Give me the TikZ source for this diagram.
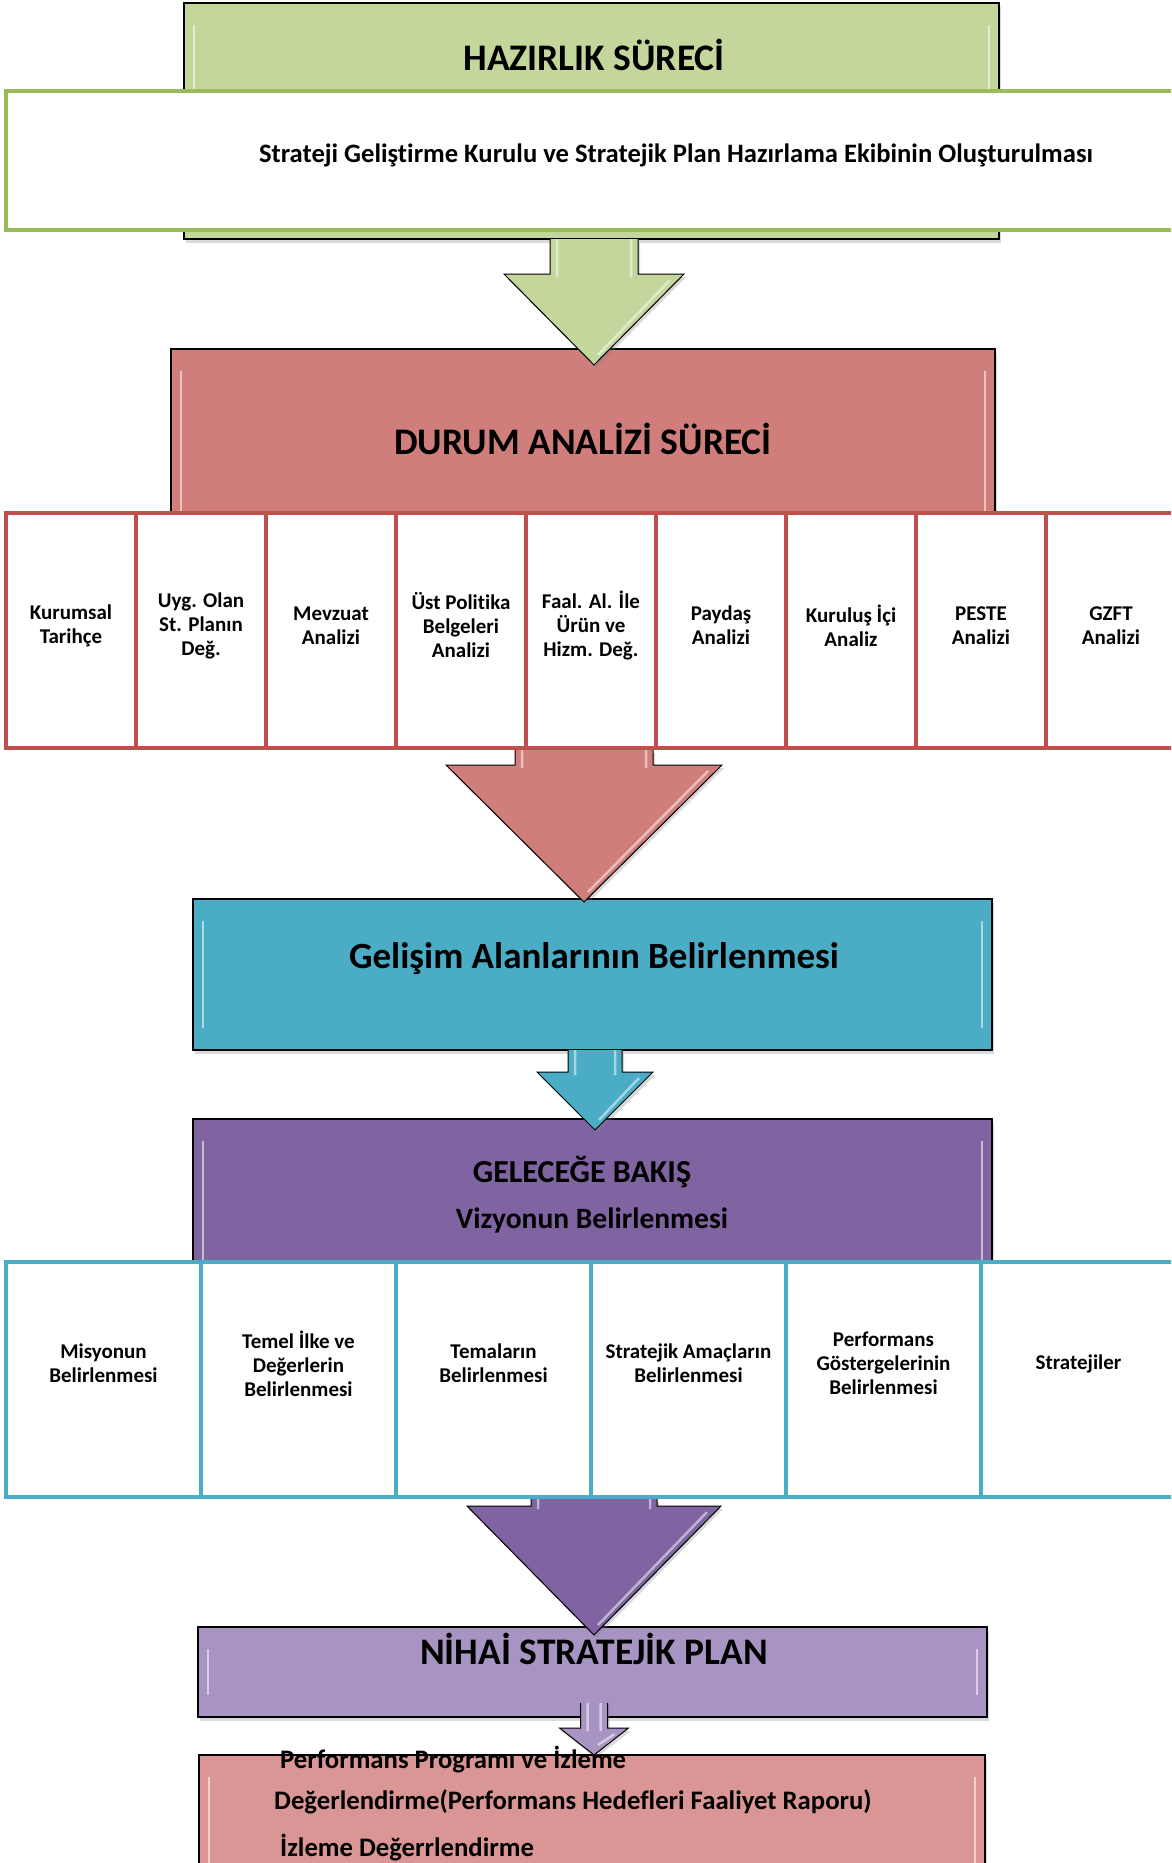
\documentclass[tikz,border=0pt]{standalone}
\usepackage{fontspec}
\setmainfont{Carlito}[Ligatures=NoCommon]
\usetikzlibrary{calc,shadows}

\definecolor{hazgreen}{HTML}{C3D69B}
\definecolor{hazline}{HTML}{9BBB59}
\definecolor{durred}{HTML}{CF7E7B}
\definecolor{durline}{HTML}{C0504D}
\definecolor{gelblue}{HTML}{4BACC6}
\definecolor{gelpurple}{HTML}{8064A2}
\definecolor{nihlav}{HTML}{A894C2}
\definecolor{izlpink}{HTML}{D99694}

\tikzset{
  stage/.style={draw=black, line width=1.3pt, inner sep=0pt, outer sep=0pt,
    drop shadow={opacity=0.3, shadow xshift=2pt, shadow yshift=-4pt},
    path picture={
      \draw[white, opacity=0.55, line width=2.5pt]
        ([xshift=10pt,yshift=-22pt]path picture bounding box.north west)
        -- ([xshift=10pt,yshift=22pt]path picture bounding box.south west);
      \draw[white, opacity=0.55, line width=2.5pt]
        ([xshift=-10pt,yshift=-22pt]path picture bounding box.north east)
        -- ([xshift=-10pt,yshift=22pt]path picture bounding box.south east);
    }},
  rcell/.style={draw=durline, line width=4pt, fill=white, inner sep=0pt,
    minimum width=130pt, minimum height=235pt},
  bcell/.style={draw=gelblue, line width=4pt, fill=white, inner sep=0pt,
    minimum width=195pt, minimum height=235pt},
  celltext/.style={font=\bfseries\fontsize{21}{24}\selectfont, align=center, inner sep=0pt},
  headtext/.style={font=\bfseries\fontsize{37.5}{40}\selectfont, inner sep=0pt},
  subtext/.style={font=\bfseries\fontsize{29.5}{32}\selectfont, inner sep=0pt},
  izltext/.style={font=\bfseries\fontsize{26.7}{30}\selectfont, inner sep=0pt, anchor=west},
  arrowbody/.style={drop shadow={opacity=0.3, shadow xshift=2pt, shadow yshift=-3pt}},
}

% block arrow: colour, start, tip, shaft half width, head half width, head length
\newcommand{\stagearrow}[6]{%
  \fill[arrowbody, fill=#1] let \p1=(#2), \p2=(#3) in
    (\x2-#4,\y1) -- (\x2-#4,\y2+#6) -- (\x2-#5,\y2+#6) -- (\p2)
    -- (\x2+#5,\y2+#6) -- (\x2+#4,\y2+#6) -- (\x2+#4,\y1) -- cycle;
  \draw[white, opacity=0.5, line width=2.5pt] let \p1=(#2), \p2=(#3) in
    (\x2-#4+7pt,\y1) -- (\x2-#4+7pt,\y2+#6-3pt)
    (\x2+#4-7pt,\y1) -- (\x2+#4-7pt,\y2+#6-3pt)
    (\x2+#5-14pt,\y2+#6-6pt) -- (\x2+4pt,\y2+10pt);
  \draw[black, line width=1pt, line join=miter] let \p1=(#2), \p2=(#3) in
    (\x2-#4,\y1) -- (\x2-#4,\y2+#6) -- (\x2-#5,\y2+#6) -- (\p2)
    -- (\x2+#5,\y2+#6) -- (\x2+#4,\y2+#6) -- (\x2+#4,\y1);
}

\begin{document}
\begin{tikzpicture}[x=1pt, y=-1pt]
  \useasboundingbox (0,0) rectangle (1171,1863);
  \clip (0,0) rectangle (1171,1863);

  % hazirlik
  \node[stage, fill=hazgreen, minimum width=815pt, minimum height=236pt] (hazir) at (591.5,121) {};
  \node[headtext] (hazirt) at (594,55) {HAZIRLIK SÜRECİ};
  \node[draw=hazline, line width=4pt, fill=white, inner sep=0pt,
    minimum width=1194pt, minimum height=139pt] (kurul) at (603,160.5) {};
  \node[font=\bfseries\fontsize{26.6}{30}\selectfont, inner sep=0pt] (kurult) at (676,155)
    {Strateji Geliştirme Kurulu ve Stratejik Plan Hazırlama Ekibinin Oluşturulması};

  % durum analizi
  \node[stage, fill=durred, minimum width=824pt, minimum height=251pt] (durum) at (583,474.5) {};
  \node[headtext] (durumt) at (583,439) {DURUM ANALİZİ SÜRECİ};
  \coordinate (tip1) at (594,365);
  \stagearrow{hazgreen}{hazir.south}{tip1}{44pt}{90pt}{91pt}

  \foreach \t [count=\i] in {Kurumsal\\Tarihçe, Uyg. Olan\\St. Planın\\Değ., Mevzuat\\Analizi,
      Üst Politika\\Belgeleri\\Analizi, Faal. Al. İle\\Ürün ve\\Hizm. Değ., Paydaş\\Analizi,
      Kuruluş İçi\\Analiz, PESTE\\Analizi, GZFT\\Analizi} {
    \node[rcell] (r\i) at (130*\i-59,630.5) {};
    \node[celltext] (rt\i) at ([yshift=5pt]r\i.center) {\t};
  }

  % gelisim alanlari
  \node[stage, fill=gelblue, minimum width=799pt, minimum height=151pt] (gelisim) at (592.5,974.5) {};
  \node[headtext, font=\bfseries\fontsize{37}{40}\selectfont] (gelisimt) at (594,959) {Gelişim Alanlarının Belirlenmesi};
  \coordinate (tip2) at (584,902);
  \stagearrow{durred}{r5.south}{tip2}{69pt}{138pt}{137pt}

  % gelecege bakis
  \node[stage, fill=gelpurple, minimum width=799pt, minimum height=181pt] (gelecek) at (592.5,1209.5) {};
  \node[subtext, font=\bfseries\fontsize{32}{34}\selectfont] (gelecekt) at (582,1172) {GELECEĞE BAKIŞ};
  \node[subtext] (vizyont) at (592,1220) {Vizyonun Belirlenmesi};
  \coordinate (tip3) at (595,1130);
  \stagearrow{gelblue}{gelisim.south}{tip3}{27pt}{58pt}{58pt}

  \foreach \t [count=\i] in {Misyonun\\Belirlenmesi, Temel İlke ve\\Değerlerin\\Belirlenmesi,
      Temaların\\Belirlenmesi, Stratejik Amaçların\\Belirlenmesi,
      Performans\\Göstergelerinin\\Belirlenmesi, Stratejiler} {
    \node[bcell] (b\i) at (195*\i-91.5,1379.5) {};
    \node[celltext] (bt\i) at ([yshift=16pt]b\i.center) {\t};
  }

  % nihai plan
  \node[stage, fill=nihlav, minimum width=789pt, minimum height=90pt] (nihai) at (592.5,1672) {};
  \node[headtext] (nihait) at (594,1649) {NİHAİ STRATEJİK PLAN};
  \coordinate (tip4) at (594,1635);
  \stagearrow{gelpurple}{b4.south}{tip4}{63pt}{127pt}{129pt}

  % izleme
  \node[stage, fill=izlpink, minimum width=786pt, minimum height=145pt] (izleme) at (592,1827.5) {};
  \coordinate (tip5) at (594,1755);
  \stagearrow{nihlav}{[yshift=14pt]nihai.south}{tip5}{13.5pt}{34.5pt}{27pt}
  \node[izltext] (izt1) at (280,1760) {Performans Programı ve İzleme};
  \node[izltext] (izt2) at (274,1802) {Değerlendirme(Performans Hedefleri Faaliyet Raporu)};
  \node[izltext] (izt3) at (280,1848) {İzleme Değerrlendirme};
\end{tikzpicture}
\end{document}
